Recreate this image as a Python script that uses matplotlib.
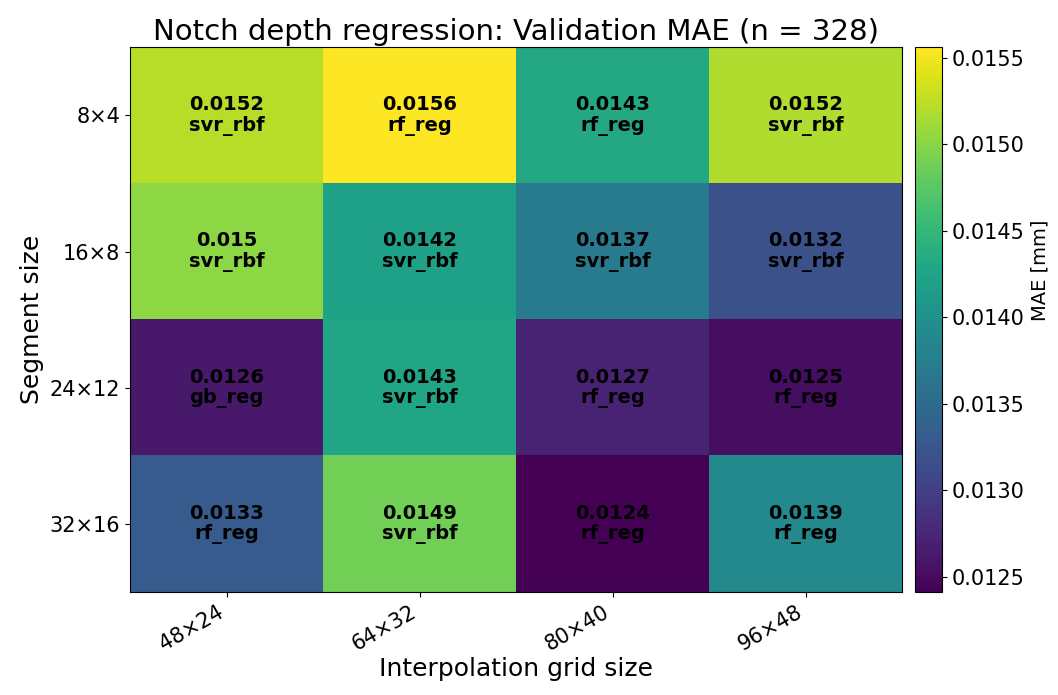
import numpy as np
from matplotlib import pyplot as plt

# rows = segment size, cols = interpolation grid size
seg_sizes = ["8×4", "16×8", "24×12", "32×16"]
grid_sizes = ["48×24", "64×32", "80×40", "96×48"]

mae = np.array([
    [0.01522, 0.01556, 0.01431, 0.01518],
    [0.01502, 0.01421, 0.01372, 0.01319],
    [0.01262, 0.01428, 0.01271, 0.01253],
    [0.01331, 0.01489, 0.01241, 0.01389],
])

best_model = [
    ["svr_rbf", "rf_reg", "rf_reg", "svr_rbf"],
    ["svr_rbf", "svr_rbf", "svr_rbf", "svr_rbf"],
    ["gb_reg", "svr_rbf", "rf_reg", "rf_reg"],
    ["rf_reg", "svr_rbf", "rf_reg", "rf_reg"],
]

fig = plt.figure(figsize=(10.58, 6.95), dpi=100)
ax = fig.add_axes([0.123, 0.148, 0.730, 0.784])
cax = fig.add_axes([0.865, 0.148, 0.0255, 0.784])

im = ax.imshow(mae, cmap="viridis", aspect="auto")

for i in range(len(seg_sizes)):
    for j in range(len(grid_sizes)):
        ax.text(j, i, f"{round(mae[i, j], 4)}\n{best_model[i][j]}",
                ha="center", va="center", color="black",
                fontsize=14, fontweight="bold", linespacing=1.1)

ax.set_xticks(range(len(grid_sizes)))
ax.set_xticklabels(grid_sizes, rotation=30, ha="right")
ax.set_yticks(range(len(seg_sizes)))
ax.set_yticklabels(seg_sizes)
ax.tick_params(labelsize=15)
ax.set_xlabel("Interpolation grid size", fontsize=18, labelpad=2)
ax.set_ylabel("Segment size", fontsize=18)
ax.set_title("Notch depth regression: Validation MAE (n = 328)", fontsize=21, pad=5)

cb = fig.colorbar(im, cax=cax)
cb.set_label("MAE [mm]", fontsize=14, y=0.59)
cb.ax.tick_params(labelsize=15)
cb.ax.yaxis.set_major_formatter(plt.FormatStrFormatter("%.4f"))

fig.savefig("out.png", dpi=100)
